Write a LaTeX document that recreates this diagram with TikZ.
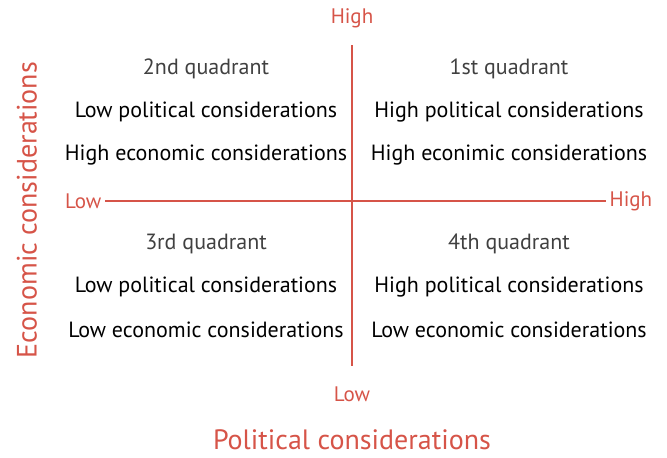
\documentclass[tikz,border=0pt]{standalone}
\usepackage{fontspec}
\setmainfont{PT Sans}
\usetikzlibrary{positioning}
\definecolor{axisred}{RGB}{214,84,72}
\definecolor{headgray}{RGB}{64,64,64}

\begin{document}
\begin{tikzpicture}[x=1pt,y=-1pt,node distance=43pt,on grid,
  axis/.style={draw=axisred,line width=1.6pt},
  axislabel/.style={text=axisred,font=\fontsize{21}{21}\selectfont,inner sep=3.5pt},
  title/.style={text=axisred,font=\fontsize{28}{28}\selectfont},
  quad/.style={text=headgray,font=\fontsize{22}{22}\selectfont},
  line/.style={text=black,font=\fontsize{22}{22}\selectfont}]
  \useasboundingbox (0,0) rectangle (667,458);

  % axis ends
  \node[axislabel] (top)    at (352,18)  {High};
  \node[axislabel] (bottom) at (352,394) {Low};
  \node[axislabel,anchor=east] (left)  at (105,201) {Low};
  \node[axislabel,anchor=west] (right) at (606,201) {High};
  \coordinate (vtop) at (352,45);
  \coordinate (vbot) at (352,366);
  \draw[axis] (vtop) -- (vbot);
  \draw[axis] (left) -- (right);

  % axis titles
  \node[title] (xtitle) at (352,440) {Political considerations};
  \node[title,rotate=90] (ytitle) at (27,210) {Economic considerations};

  % quadrants
  \node[quad]  (q2)  at (206,69)  {2nd quadrant};
  \node[line]  (q2a) [below=of q2]  {Low political considerations};
  \node[line]  (q2b) [below=of q2a] {High economic considerations};

  \node[quad]  (q1)  at (509,69)  {1st quadrant};
  \node[line]  (q1a) [below=of q1]  {High political considerations};
  \node[line]  (q1b) [below=of q1a] {High econimic considerations};

  \node[quad]  (q3)  at (206,244) {3rd quadrant};
  \node[line]  (q3a) [below=of q3]  {Low political considerations};
  \node[line]  (q3b) [below=of q3a] {Low economic considerations};

  \node[quad]  (q4)  at (509,244) {4th quadrant};
  \node[line]  (q4a) [below=of q4]  {High political considerations};
  \node[line]  (q4b) [below=of q4a] {Low economic considerations};
\end{tikzpicture}
\end{document}
